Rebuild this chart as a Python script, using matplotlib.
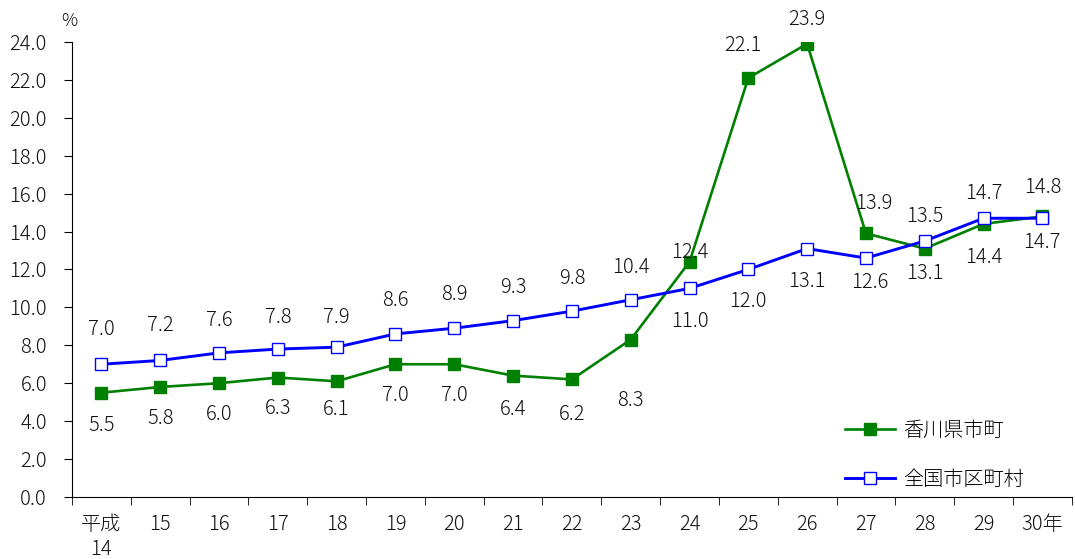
import matplotlib.pyplot as plt
from matplotlib.ticker import FixedLocator, NullFormatter

plt.rcParams['font.family'] = ['Noto Sans CJK JP', 'DejaVu Sans']

# データ
years = ['平成\n14', '15', '16', '17', '18', '19', '20', '21', '22',
         '23', '24', '25', '26', '27', '28', '29', '30年']
kagawa = [5.5, 5.8, 6.0, 6.3, 6.1, 7.0, 7.0, 6.4, 6.2,
          8.3, 12.4, 22.1, 23.9, 13.9, 13.1, 14.4, 14.8]
zenkoku = [7.0, 7.2, 7.6, 7.8, 7.9, 8.6, 8.9, 9.3, 9.8,
           10.4, 11.0, 12.0, 13.1, 12.6, 13.5, 14.7, 14.7]

# ラベルのずらし量 (px)
kagawa_off = [(0, -33), (0, -32), (0, -31), (0, -31), (0, -28), (0, -31), (0, -31),
              (0, -34), (0, -35), (0, -61), (0, 9), (-5, 32), (0, 24), (8, 30),
              (0, -25), (0, -34), (0, 29)]
zenkoku_off = [(0, 35), (0, 35), (0, 32), (0, 32), (0, 30), (0, 33), (0, 34),
               (0, 33), (0, 33), (0, 32), (0, -33), (0, -32), (0, -33), (4, -24),
               (0, 24), (0, 25), (0, -24)]

fs = 14.5
tc = '#111111'

fig = plt.figure(figsize=(10.75, 5.59), dpi=100)
ax = fig.add_axes([0.067, 0.111, 0.93, 0.814])

x = list(range(len(years)))
ax.plot(x, kagawa, color='#008000', lw=1.9, marker='s', ms=9,
        mfc='#008000', mec='#008000', label='香川県市町', zorder=3)
ax.plot(x, zenkoku, color='#0000FF', lw=2.1, marker='s', ms=9,
        mfc='white', mec='#0000FF', mew=1.0, label='全国市区町村', zorder=4)

for i in x:
    ax.annotate(f'{kagawa[i]:.1f}', (i, kagawa[i]), xytext=kagawa_off[i],
                textcoords='offset pixels', ha='center', va='center', fontsize=fs,
                color=tc, fontweight='light')
    ax.annotate(f'{zenkoku[i]:.1f}', (i, zenkoku[i]), xytext=zenkoku_off[i],
                textcoords='offset pixels', ha='center', va='center', fontsize=fs,
                color=tc, fontweight='light')

ax.set_xlim(-0.5, len(years) - 0.5)
ax.set_ylim(0, 24)
ax.set_yticks([i * 2 for i in range(13)])
ax.set_yticklabels([f'{i * 2:.1f}' for i in range(13)], fontsize=fs,
                   fontweight='light', color=tc)
ax.tick_params(axis='y', direction='out', length=6, pad=12)

ax.set_xticks(x)
ax.set_xticklabels(years, fontsize=fs, linespacing=1.25, fontweight='light', color=tc)
ax.tick_params(axis='x', which='major', length=0, pad=12)
ax.xaxis.set_minor_locator(FixedLocator([i - 0.5 for i in range(len(years) + 1)]))
ax.xaxis.set_minor_formatter(NullFormatter())
ax.tick_params(axis='x', which='minor', direction='out', length=6)

for s in ['top', 'right']:
    ax.spines[s].set_visible(False)

ax.text(-0.55, 25.1, '%', ha='center', va='center', fontsize=13,
        fontweight='light', color=tc)

ax.legend(loc='lower right', bbox_to_anchor=(0.97, -0.024), frameon=False,
          prop={'size': fs, 'weight': 'light'}, handlelength=2.5, labelspacing=1.4,
          handletextpad=0.4)

fig.savefig('out.png', dpi=100)
